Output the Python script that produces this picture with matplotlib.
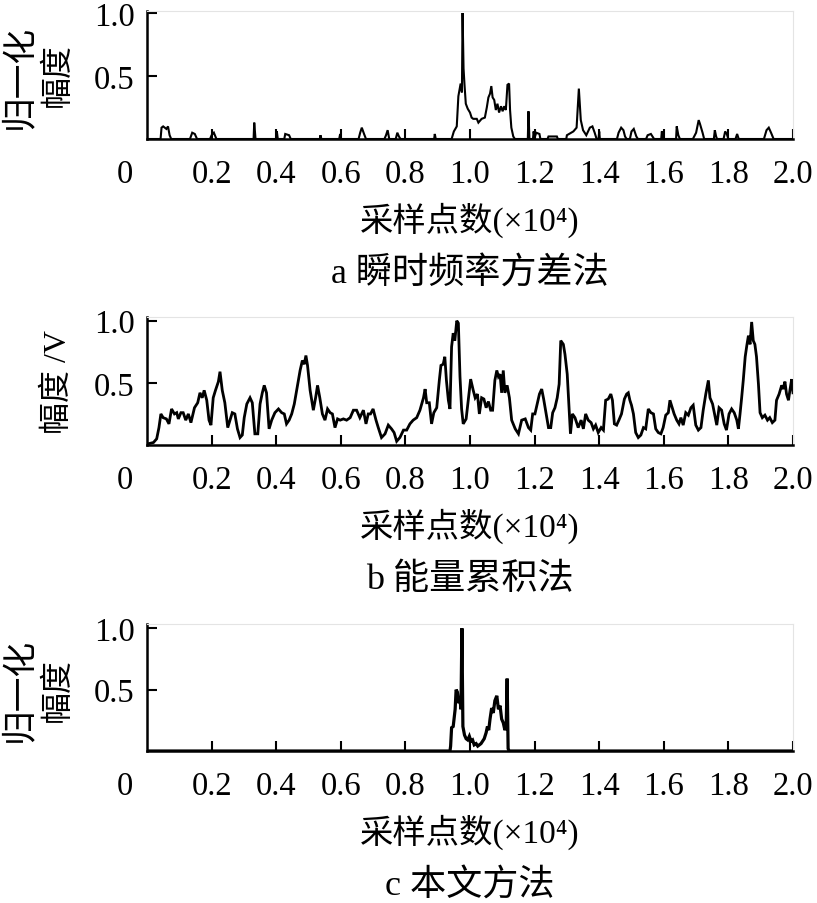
import matplotlib
matplotlib.use("Agg")
import matplotlib.pyplot as plt

plt.rcParams['font.family'] = ['Liberation Serif', 'Noto Sans CJK SC', 'DejaVu Serif', 'DejaVu Sans']

# ---------------- data (x in units of 1e4 samples) ----------------
a_x = [0.0, 0.042, 0.045, 0.05, 0.06, 0.065, 0.07, 0.075,
       0.133, 0.14, 0.148, 0.155,
       0.195, 0.2, 0.207, 0.215,
       0.33, 0.332, 0.336,
       0.40, 0.402, 0.405,
       0.425, 0.428, 0.44, 0.445,
       0.535, 0.537, 0.54,
       0.595, 0.598, 0.6,
       0.655, 0.66, 0.665, 0.672, 0.678,
       0.735, 0.74, 0.745, 0.75,
       0.77, 0.775, 0.78, 0.785,
       0.889, 0.891, 0.894,
       0.943, 0.95, 0.959, 0.964, 0.971, 0.975, 0.977, 0.98, 0.983, 0.987,
       0.993, 1.0, 1.005, 1.01, 1.021, 1.026, 1.036, 1.046, 1.052, 1.057,
       1.062, 1.066, 1.07, 1.075, 1.08, 1.085, 1.09, 1.096, 1.101, 1.106,
       1.111, 1.116, 1.121, 1.124, 1.128, 1.134, 1.139,
       1.179, 1.181, 1.184,
       1.195, 1.197, 1.2, 1.205, 1.215, 1.218,
       1.24, 1.243, 1.269, 1.272,
       1.298, 1.3, 1.32, 1.33, 1.337, 1.343, 1.35, 1.36, 1.371, 1.379, 1.386, 1.392,
       1.398, 1.4, 1.402,
       1.455, 1.46, 1.468, 1.475, 1.48, 1.485,
       1.495, 1.5, 1.507, 1.515, 1.52,
       1.545, 1.55, 1.56, 1.57,
       1.592, 1.594, 1.597,
       1.638, 1.64, 1.645, 1.65,
       1.69, 1.7, 1.708, 1.712, 1.72, 1.725,
       1.755, 1.758, 1.762, 1.765,
       1.785, 1.79, 1.795, 1.8,
       1.822, 1.827, 1.832,
       1.91, 1.918, 1.925, 1.932, 1.94, 2.0]
a_y = [0.0, 0.0, 0.09, 0.1, 0.08, 0.1, 0.03, 0.0,
       0.0, 0.05, 0.04, 0.0,
       0.0, 0.03, 0.05, 0.0,
       0.0, 0.13, 0.0,
       0.0, 0.06, 0.0,
       0.0, 0.04, 0.03, 0.0,
       0.0, 0.03, 0.0,
       0.0, 0.04, 0.0,
       0.0, 0.05, 0.09, 0.04, 0.0,
       0.0, 0.03, 0.07, 0.0,
       0.0, 0.05, 0.02, 0.0,
       0.0, 0.04, 0.0,
       0.0, 0.06, 0.1, 0.34, 0.44, 0.37, 1.0, 0.56, 0.43, 0.28,
       0.24, 0.21, 0.17, 0.16, 0.16, 0.13, 0.16, 0.17, 0.25, 0.33,
       0.36, 0.42, 0.33, 0.31, 0.23, 0.28, 0.21, 0.26, 0.22, 0.26,
       0.23, 0.43, 0.44, 0.23, 0.09, 0.02, 0.0,
       0.0, 0.22, 0.0,
       0.0, 0.06, 0.01, 0.05, 0.04, 0.0,
       0.0, 0.02, 0.02, 0.0,
       0.0, 0.03, 0.06, 0.09, 0.4, 0.15, 0.07, 0.03, 0.09, 0.1, 0.05, 0.0,
       0.0, 0.06, 0.0,
       0.0, 0.05, 0.09, 0.07, 0.02, 0.0,
       0.0, 0.06, 0.08, 0.02, 0.0,
       0.0, 0.03, 0.04, 0.0,
       0.0, 0.06, 0.0,
       0.0, 0.1, 0.03, 0.0,
       0.0, 0.05, 0.15, 0.12, 0.05, 0.0,
       0.0, 0.07, 0.02, 0.0,
       0.0, 0.06, 0.04, 0.0,
       0.0, 0.04, 0.0,
       0.0, 0.07, 0.09, 0.05, 0.0, 0.0]

b_x = [0.004, 0.02, 0.03, 0.037, 0.043, 0.05, 0.06, 0.068, 0.076, 0.085,
       0.092, 0.097, 0.105, 0.112, 0.12, 0.128, 0.136, 0.147, 0.157, 0.164,
       0.171, 0.177, 0.185, 0.192, 0.198, 0.205, 0.212, 0.221, 0.226, 0.233,
       0.241, 0.25, 0.257, 0.264, 0.272, 0.28, 0.288, 0.295, 0.301, 0.309,
       0.319, 0.326, 0.334, 0.343, 0.35, 0.357, 0.363, 0.37, 0.378, 0.386,
       0.396, 0.407, 0.417, 0.425, 0.432, 0.44, 0.448, 0.456, 0.466, 0.474,
       0.481, 0.487, 0.492, 0.497, 0.505, 0.515, 0.522, 0.528, 0.535, 0.543,
       0.551, 0.559, 0.567, 0.574, 0.582, 0.59, 0.598, 0.608, 0.618, 0.629,
       0.639, 0.649, 0.659, 0.67, 0.678, 0.685, 0.692, 0.7, 0.709, 0.716,
       0.726, 0.737, 0.747, 0.757, 0.765, 0.773, 0.783, 0.794, 0.804, 0.814,
       0.824, 0.835, 0.845, 0.856, 0.861, 0.866, 0.874, 0.881, 0.888, 0.897,
       0.905, 0.91, 0.917, 0.922, 0.927, 0.933, 0.938, 0.943, 0.948, 0.953,
       0.959, 0.964, 0.969, 0.974, 0.979, 0.988, 0.995, 1.002, 1.01, 1.016,
       1.023, 1.029, 1.036, 1.043, 1.05, 1.057, 1.064, 1.07, 1.077, 1.083,
       1.088, 1.093, 1.098, 1.103, 1.108, 1.115, 1.122, 1.129, 1.14, 1.15,
       1.16, 1.171, 1.181, 1.188, 1.194, 1.201, 1.208, 1.215, 1.222, 1.228,
       1.236, 1.243, 1.25, 1.256, 1.263, 1.27, 1.276, 1.281, 1.289, 1.294,
       1.301, 1.307, 1.311, 1.317, 1.325, 1.335, 1.344, 1.351, 1.358, 1.366,
       1.375, 1.382, 1.389, 1.397, 1.406, 1.413, 1.42, 1.428, 1.436, 1.441,
       1.447, 1.454, 1.461, 1.469, 1.478, 1.485, 1.49, 1.495, 1.5, 1.506,
       1.513, 1.521, 1.529, 1.537, 1.544, 1.552, 1.56, 1.568, 1.575, 1.583,
       1.591, 1.598, 1.606, 1.614, 1.619, 1.626, 1.632, 1.64, 1.647, 1.653,
       1.66, 1.668, 1.676, 1.684, 1.691, 1.699, 1.707, 1.715, 1.722, 1.73,
       1.738, 1.743, 1.751, 1.757, 1.764, 1.771, 1.779, 1.787, 1.794, 1.802,
       1.81, 1.818, 1.826, 1.831, 1.836, 1.841, 1.846, 1.852, 1.857, 1.862,
       1.867, 1.872, 1.877, 1.882, 1.887, 1.893, 1.898, 1.905, 1.913, 1.921,
       1.928, 1.936, 1.944, 1.949, 1.957, 1.965, 1.97, 1.975, 1.98, 1.986,
       1.991, 1.996, 2.0]
b_y = [0.01, 0.02, 0.05, 0.14, 0.25, 0.22, 0.21, 0.17, 0.29, 0.25,
       0.26, 0.21, 0.26, 0.26, 0.2, 0.25, 0.18, 0.30, 0.34, 0.42,
       0.38, 0.44, 0.36, 0.2, 0.16, 0.38, 0.44, 0.51, 0.59, 0.44,
       0.34, 0.14, 0.2, 0.26, 0.25, 0.13, 0.06, 0.08, 0.22, 0.33,
       0.38, 0.34, 0.09, 0.09, 0.33, 0.42, 0.48, 0.42, 0.13, 0.2,
       0.26, 0.29, 0.26, 0.25, 0.17, 0.2, 0.25, 0.33, 0.48, 0.6,
       0.68, 0.65, 0.72, 0.64, 0.44, 0.28, 0.38, 0.48, 0.38, 0.25,
       0.2, 0.29, 0.26, 0.25, 0.14, 0.21, 0.2, 0.21, 0.2, 0.22,
       0.28, 0.28, 0.22, 0.28, 0.17, 0.25, 0.25, 0.29, 0.2, 0.14,
       0.06, 0.09, 0.16, 0.13, 0.1, 0.03, 0.06, 0.12, 0.12, 0.17,
       0.2, 0.22, 0.28, 0.38, 0.45, 0.34, 0.34, 0.17, 0.26, 0.3,
       0.52, 0.64, 0.65, 0.71, 0.52, 0.36, 0.29, 0.79, 0.9, 0.84,
       1.0, 0.98, 0.55, 0.29, 0.17, 0.21, 0.37, 0.53, 0.44, 0.38,
       0.41, 0.25, 0.38, 0.37, 0.3, 0.35, 0.28, 0.28, 0.52, 0.6,
       0.55, 0.57, 0.42, 0.6, 0.42, 0.48, 0.38, 0.2, 0.13, 0.09,
       0.2, 0.21, 0.14, 0.12, 0.25, 0.25, 0.33, 0.41, 0.45, 0.37,
       0.25, 0.14, 0.14, 0.26, 0.3, 0.38, 0.49, 0.84, 0.81, 0.73,
       0.57, 0.28, 0.09, 0.25, 0.22, 0.14, 0.2, 0.13, 0.25, 0.2,
       0.18, 0.13, 0.16, 0.1, 0.14, 0.12, 0.36, 0.37, 0.41, 0.36,
       0.17, 0.16, 0.2, 0.25, 0.37, 0.41, 0.42, 0.36, 0.32, 0.25,
       0.1, 0.06, 0.08, 0.14, 0.13, 0.29, 0.26, 0.25, 0.13, 0.1,
       0.09, 0.14, 0.24, 0.26, 0.36, 0.3, 0.25, 0.2, 0.17, 0.22,
       0.16, 0.26, 0.24, 0.3, 0.32, 0.16, 0.12, 0.14, 0.28, 0.41,
       0.52, 0.38, 0.33, 0.25, 0.16, 0.3, 0.28, 0.17, 0.12, 0.25,
       0.29, 0.26, 0.2, 0.13, 0.25, 0.38, 0.52, 0.71, 0.8, 0.88,
       0.81, 0.99, 0.84, 0.81, 0.71, 0.49, 0.26, 0.22, 0.24, 0.2,
       0.22, 0.18, 0.2, 0.36, 0.41, 0.48, 0.45, 0.51, 0.41, 0.36,
       0.45, 0.53, 0.42]

c_x = [0.0, 0.938, 0.94, 0.943, 0.948, 0.954, 0.957, 0.961, 0.965, 0.969,
       0.972, 0.975, 0.978, 0.983, 0.988, 0.993, 0.998, 1.003, 1.008, 1.013,
       1.019, 1.024, 1.029, 1.034, 1.039, 1.044, 1.05, 1.054, 1.058, 1.062,
       1.067, 1.072, 1.077, 1.083, 1.088, 1.093, 1.098, 1.103, 1.108, 1.112,
       1.115, 1.118, 1.121, 2.0]
c_y = [0.0, 0.0, 0.04, 0.19, 0.2, 0.34, 0.5, 0.48, 0.39, 0.42,
       0.34, 1.0, 0.2, 0.13, 0.1, 0.09, 0.12, 0.08, 0.09, 0.05,
       0.06, 0.04, 0.05, 0.06, 0.08, 0.1, 0.15, 0.2, 0.17, 0.26,
       0.35, 0.31, 0.41, 0.45, 0.34, 0.37, 0.26, 0.23, 0.17, 0.2,
       0.59, 0.02, 0.0, 0.0]

x_ticks = [0.2, 0.4, 0.6, 0.8, 1.0, 1.2, 1.4, 1.6, 1.8, 2.0]
x_ticklabels = ['0.2', '0.4', '0.6', '0.8', '1.0', '1.2', '1.4', '1.6', '1.8', '2.0']
y_ticks = [0.5, 1.0]
y_ticklabels = ['0.5', '1.0']
xlabel_text = '采样点数(×10⁴)'
subtitles = ['a 瞬时频率方差法', 'b 能量累积法', 'c 本文方法']

# ---------------- figure ----------------
W, H = 817, 904
fig = plt.figure(figsize=(W / 100, H / 100), dpi=100)

panels = [
    # (bottom_px, top_px, ytop, x, y, lw)
    (140, 12, 1.016, a_x, a_y, 1.5),
    (446, 318, 1.03, b_x, b_y, 2.0),
    (752, 625, 1.035, c_x, c_y, 2.3),
]

TICK_FS = 23.5
LABEL_FS = 24
SUB_FS = 26

axes = []
for i, (bot, top, ytop, xs, ys, lw) in enumerate(panels):
    ax = fig.add_axes([147 / W, 1 - bot / H, 646 / W, (bot - top) / H])
    ax.plot(xs, ys, color='black', lw=lw, solid_joinstyle='miter')
    ax.set_xlim(0, 2.0)
    ax.set_ylim(0, ytop)
    ax.set_xticks(x_ticks)
    ax.set_xticklabels(x_ticklabels)
    ax.set_yticks(y_ticks)
    ax.set_yticklabels(y_ticklabels)
    ax.tick_params(direction='in', length=7, width=1.5, labelsize=TICK_FS,
                   colors='black')
    ax.tick_params(axis='x', pad=14)
    ax.tick_params(axis='y', pad=9)
    for s in ['left', 'bottom']:
        ax.spines[s].set_linewidth(1.8)
        ax.spines[s].set_color('black')
    for s in ['top', 'right']:
        ax.spines[s].set_linewidth(0.8)
        ax.spines[s].set_color('#e4e4e4')
    # the "0" at the origin corner
    ax.annotate('0', xy=(0, 0), xycoords='axes fraction', xytext=(-10, -14),
                textcoords='offset points', ha='right', va='top',
                fontsize=TICK_FS)
    hpx = bot - top
    ax.set_xlabel(xlabel_text, fontsize=LABEL_FS, va='center')
    ax.xaxis.set_label_coords(0.5, -80 / hpx)
    ax.text(0.5, -134 / hpx, subtitles[i], transform=ax.transAxes,
            ha='center', va='center', fontsize=SUB_FS)
    axes.append(ax)

# y labels
fig.text(20 / W, 1 - 77 / H, '归一化', rotation=90, ha='center', va='center', fontsize=25)
fig.text(58 / W, 1 - 75 / H, '幅度', rotation=90, ha='center', va='center', fontsize=23)
fig.text(58 / W, 1 - 382 / H, '幅度 /V', rotation=90, ha='center', va='center', fontsize=23)
fig.text(20 / W, 1 - 690 / H, '归一化', rotation=90, ha='center', va='center', fontsize=25)
fig.text(58 / W, 1 - 690 / H, '幅度', rotation=90, ha='center', va='center', fontsize=23)

fig.savefig('out.png', dpi=100)
